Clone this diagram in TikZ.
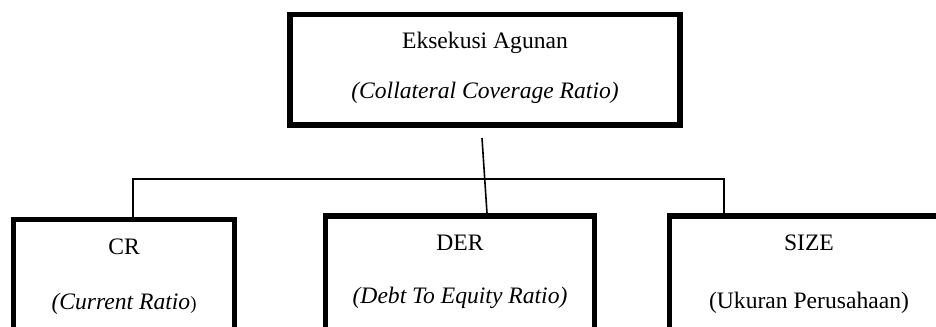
\documentclass[tikz,border=0pt]{standalone}
\usepackage{fontspec}
\setmainfont{Liberation Serif}
\usetikzlibrary{calc}
\begin{document}
\begin{tikzpicture}[x=0.75pt,y=-0.75pt,
  box/.style={draw,line width=4.1pt,rectangle,inner sep=0pt},
  conn/.style={line width=1.2pt},
  lbl/.style={anchor=base,inner sep=0pt,font=\fontsize{17.7}{20}\selectfont}]
\useasboundingbox (0,0) rectangle (936,326);
\clip (0,0) rectangle (936,326);
% boxes
\node[box,minimum width=292.5pt,minimum height=82.9pt] (top) at (485,69.75) {};
\node[box,minimum width=165.75pt,minimum height=105.4pt] (left) at (124,289.75) {};
\node[box,minimum width=201.75pt,minimum height=108pt] (mid) at (460,288) {};
\node[box,minimum width=209.25pt,minimum height=108pt] (right) at (809,288) {};
% texts
\node[lbl] (t1) at (485,48) {Eksekusi Agunan};
\node[lbl] (t2) at (485,98) {\itshape (Collateral Coverage Ratio)};
\node[lbl] (l1) at (124,254) {CR};
\node[lbl] (l2) at (124,309) {{\itshape (Current Ratio}{\fontsize{14}{16}\selectfont )}};
\node[lbl] (m1) at (460,250) {DER};
\node[lbl] (m2) at (460,303) {\itshape (Debt To Equity Ratio)};
\node[lbl] (r1) at (809,250) {SIZE};
\node[lbl] (r2) at (809,308) {(Ukuran Perusahaan)};
% connectors
\coordinate (c1) at (482,138);
\coordinate (hl) at (133,179);
\coordinate (hr) at (724,179);
\draw[conn] (c1) -- ($(mid.north)+(27,0)$);
\draw[conn] (left.north -| hl) -- (hl) -- (hr) -- (hr |- right.north);
\end{tikzpicture}
\end{document}
